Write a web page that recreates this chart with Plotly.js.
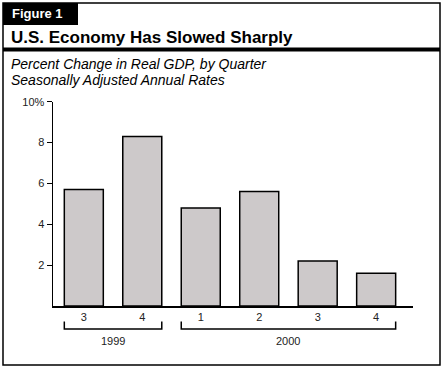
<!DOCTYPE html>
<html>
<head>
<meta charset="utf-8">
<script src="https://cdn.plot.ly/plotly-3.0.1.min.js"></script>
<style>
  html, body { margin: 0; padding: 0; background: #fff; }
  #chart { width: 444px; height: 369px; }
</style>
</head>
<body>
<div id="chart"></div>
<script>
// ---- Data ----
var categories = ["1999 Q3", "1999 Q4", "2000 Q1", "2000 Q2", "2000 Q3", "2000 Q4"];
var quarterLabels = ["3", "4", "1", "2", "3", "4"];
var gdpChange = [5.7, 8.3, 4.8, 5.6, 2.2, 1.6];
var years = ["1999", "2000"];
var yearStart = [0, 2];   // index of first quarter of each year group
var yearEnd = [1, 5];     // index of last quarter of each year group
var yTickVals = [2, 4, 6, 8, 10];
var yTickText = ["2", "4", "6", "8", "10%"];

// ---- Layout helpers (pixel -> paper) ----
var W = 444, H = 369;
function px(p) { return p / W; }
function py(p) { return 1 - p / H; }
var FONT = "Liberation Sans, Arial, Helvetica, sans-serif";
var barWidth = 0.667;
var xIdx = categories.map(function (_, i) { return i; });

var shapes = [
  // outer frame
  { type: "rect", xref: "paper", yref: "paper", x0: px(3), x1: px(440), y0: py(3), y1: py(365),
    line: { color: "#000", width: 1.5 }, fillcolor: "rgba(0,0,0,0)" },
  // black "Figure 1" tab
  { type: "rect", xref: "paper", yref: "paper", x0: px(3), x1: px(78), y0: py(3), y1: py(25),
    line: { width: 0 }, fillcolor: "#000" },
  // thick rule under title
  { type: "line", xref: "paper", yref: "paper", x0: px(3), x1: px(440), y0: py(49.5), y1: py(49.5),
    line: { color: "#000", width: 4 } }
];

var annotations = [
  { text: "<b>Figure 1</b>", xref: "paper", yref: "paper", x: px(10), y: py(14),
    xanchor: "left", yanchor: "middle", showarrow: false,
    font: { family: FONT, size: 13, color: "#fff" } },
  { text: "<b>U.S. Economy Has Slowed Sharply</b>", xref: "paper", yref: "paper", x: px(9), y: py(37),
    xanchor: "left", yanchor: "middle", showarrow: false,
    font: { family: FONT, size: 17, color: "#000" } },
  { text: "<i>Percent Change in Real GDP, by Quarter</i>", xref: "paper", yref: "paper", x: px(9), y: py(64),
    xanchor: "left", yanchor: "middle", showarrow: false,
    font: { family: FONT, size: 14, color: "#000" } },
  { text: "<i>Seasonally Adjusted Annual Rates</i>", xref: "paper", yref: "paper", x: px(9), y: py(80),
    xanchor: "left", yanchor: "middle", showarrow: false,
    font: { family: FONT, size: 14, color: "#000" } }
];

// year brackets and labels
years.forEach(function (yr, k) {
  var a = yearStart[k] - barWidth / 2, b = yearEnd[k] + barWidth / 2;
  shapes.push({
    type: "path", xref: "x", yref: "paper",
    path: "M " + a + "," + py(321.5) + " L " + a + "," + py(329) + " L " + b + "," + py(329) + " L " + b + "," + py(321.5),
    line: { color: "#000", width: 1.5 }
  });
  annotations.push({
    text: yr, xref: "x", yref: "paper", x: (yearStart[k] + yearEnd[k]) / 2, y: py(341),
    xanchor: "center", yanchor: "middle", showarrow: false,
    font: { family: FONT, size: 11, color: "#222" }
  });
});

var trace = {
  type: "bar",
  x: xIdx,
  y: gdpChange,
  width: barWidth,
  marker: { color: "#cdc9ca", line: { color: "#000", width: 1.5 } },
  hoverinfo: "none"
};

var layout = {
  width: W, height: H,
  margin: { l: 0, r: 0, t: 0, b: 0 },
  paper_bgcolor: "#fff",
  plot_bgcolor: "rgba(0,0,0,0)",
  showlegend: false,
  font: { family: FONT, size: 11, color: "#222" },
  xaxis: {
    domain: [px(53), px(413)],
    range: [-0.527, 5.63],
    tickvals: xIdx,
    ticktext: quarterLabels,
    ticks: "",
    showline: true, linecolor: "#000", linewidth: 1.5,
    showgrid: false, zeroline: false,
    tickfont: { family: FONT, size: 11, color: "#222" },
    fixedrange: true
  },
  yaxis: {
    domain: [1 - 306 / H, 1 - 101.7 / H],
    range: [0, 10],
    tickvals: yTickVals,
    ticktext: yTickText,
    ticks: "outside", ticklen: 5, tickwidth: 1.2, tickcolor: "#000",
    showline: true, linecolor: "#000", linewidth: 1.5,
    showgrid: false, zeroline: false,
    tickfont: { family: FONT, size: 11, color: "#222" },
    fixedrange: true
  },
  shapes: shapes,
  annotations: annotations
};

Plotly.newPlot("chart", [trace], layout, { staticPlot: true, displayModeBar: false });
</script>
</body>
</html>
